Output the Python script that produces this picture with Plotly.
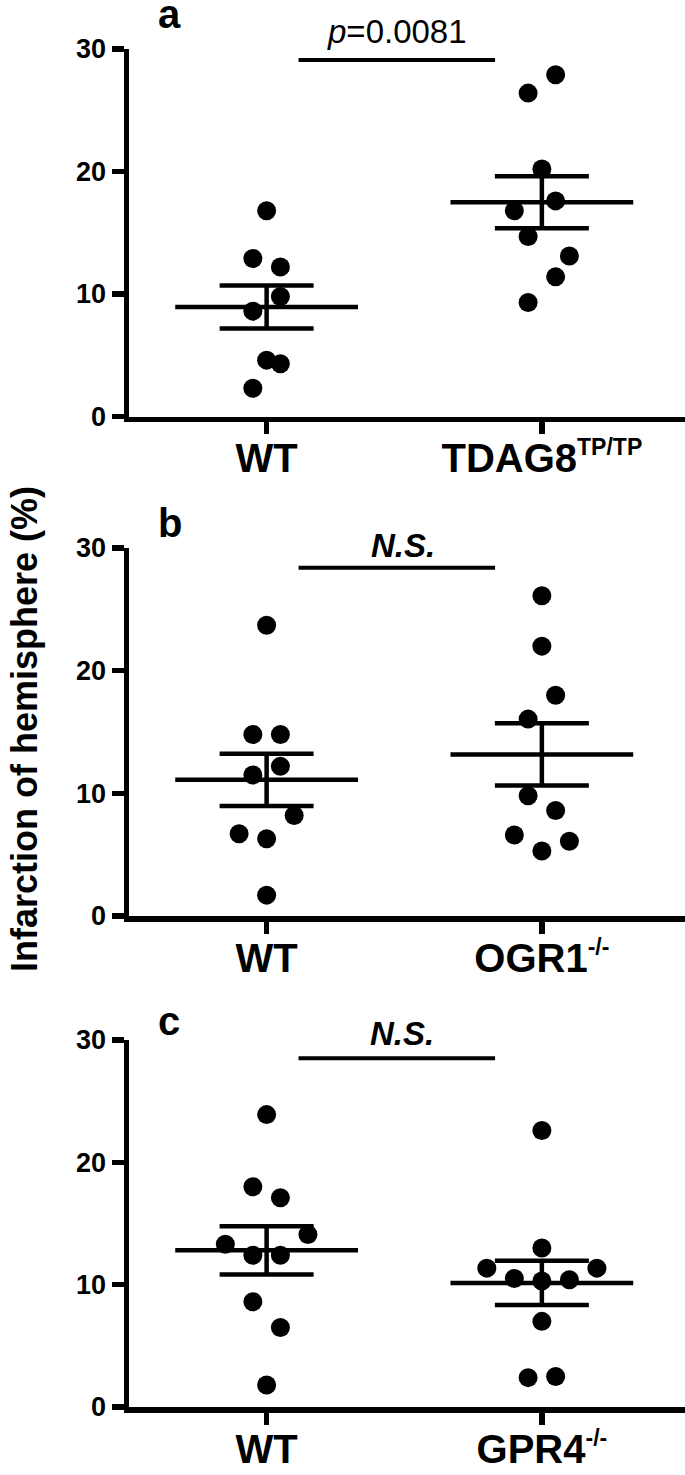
import numpy as np
import plotly.graph_objects as go

# ---------------- data ----------------
panel_letters = ["a", "b", "c"]
wt_label = "WT"
ko_labels = [
    'TDAG8<sup><span style="font-size:23px">TP/TP</span></sup>',
    'OGR1<sup><span style="font-size:23px">-/-</span></sup>',
    'GPR4<sup><span style="font-size:23px">-/-</span></sup>',
]
y_ticks = [0, 10, 20, 30]

# panel a
a_wt = [16.8, 12.9, 12.2, 9.8, 8.6, 4.6, 4.3, 2.3]
a_wt_slot = [0, -1, 1, 1, -1, 0, 1, -1]
a_ko = [27.9, 26.4, 20.2, 17.6, 16.8, 14.7, 13.1, 11.4, 9.3]
a_ko_slot = [1, -1, 0, 1, -2, -1, 2, 1, -1]
# panel b
b_wt = [23.7, 14.8, 14.8, 12.2, 11.5, 8.2, 6.7, 6.3, 1.7]
b_wt_slot = [0, -1, 1, 1, -1, 2, -2, 0, 0]
b_ko = [26.1, 22.0, 18.0, 16.05, 9.8, 8.6, 6.6, 6.1, 5.3]
b_ko_slot = [0, 0, 1, -1, -1, 1, -2, 2, 0]
# panel c
c_wt = [23.9, 18.0, 17.1, 14.1, 13.3, 12.4, 12.4, 8.6, 6.5, 1.8]
c_wt_slot = [0, -1, 1, 3, -3, -1, 1, -1, 1, 0]
c_ko = [22.6, 13.0, 11.35, 11.35, 10.5, 10.3, 10.4, 7.0, 2.4, 2.5]
c_ko_slot = [0, 0, -4, 4, -2, 0, 2, 0, -1, 1]

sig_text = ["<i>p</i>=0.0081", "<b><i>N.S.</i></b>", "<b><i>N.S.</i></b>"]
sig_level = [29.1, 28.4, 28.5]
sig_text_level = [31.45, 30.2, 30.5]
sig_text_x = [0.473, 0.495, 0.49]
sig_text_size = [33, 33, 33]

panels = [
    (a_wt, a_wt_slot, a_ko, a_ko_slot),
    (b_wt, b_wt_slot, b_ko, b_ko_slot),
    (c_wt, c_wt_slot, c_ko, c_ko_slot),
]

# ---------------- layout geometry ----------------
W, H = 685, 1475
FONT = "Liberation Sans, Arial, sans-serif"
panel_px = [(49, 416.5), (548, 916), (1040, 1407)]  # (top, bottom) in px
letter_px = [14, 523, 1021]
x_left_px = 129
slot_w = 0.05
mean_half = 0.332
cap_px = 47
LW = 5.5
YMAX = 30

fig = go.Figure()
layout = dict(
    width=W, height=H, margin=dict(l=0, r=0, t=0, b=0, autoexpand=False),
    paper_bgcolor="white", plot_bgcolor="white", showlegend=False,
    font=dict(family=FONT, color="black"),
)
annotations = []
shapes = []

for i, (wt, wt_s, ko, ko_s) in enumerate(panels):
    top, bot = panel_px[i]
    xa = "x" if i == 0 else f"x{i+1}"
    ya = "y" if i == 0 else f"y{i+1}"
    xkey = "xaxis" if i == 0 else f"xaxis{i+1}"
    ykey = "yaxis" if i == 0 else f"yaxis{i+1}"
    layout[xkey] = dict(
        domain=[x_left_px / W, 1], range=[-0.5, 1.52], anchor=ya,
        tickmode="array", tickvals=[0, 1], ticktext=[wt_label, ko_labels[i]],
        showline=True, linewidth=LW, linecolor="black", ticks="outside",
        ticklen=12, tickwidth=LW, tickcolor="black", showgrid=False, zeroline=False,
        tickfont=dict(family=FONT, size=40, color="black", weight="bold"),
        ticklabelstandoff=-10, automargin=False,
        fixedrange=True,
    )
    layout[ykey] = dict(
        domain=[1 - bot / H, 1 - top / H], range=[0, YMAX], anchor=xa,
        tickmode="array", tickvals=y_ticks,
        showline=True, linewidth=LW, linecolor="black", ticks="outside",
        ticklen=12, tickwidth=LW, tickcolor="black", showgrid=False, zeroline=False,
        tickfont=dict(family=FONT, size=27, color="black", weight="bold"),
        automargin=False,
        fixedrange=True,
    )
    for gi, (vals, slots) in enumerate([(wt, wt_s), (ko, ko_s)]):
        v = np.array(vals, dtype=float)
        xs = gi + np.array(slots) * slot_w
        fig.add_trace(go.Scatter(
            x=xs, y=v, mode="markers", xaxis=xa, yaxis=ya,
            marker=dict(size=19, color="black", line=dict(width=0)),
            cliponaxis=False, hoverinfo="skip"))
        m = v.mean()
        sem = v.std(ddof=1) / np.sqrt(len(v))
        fig.add_trace(go.Scatter(
            x=[gi - mean_half, gi + mean_half], y=[m, m], mode="lines",
            xaxis=xa, yaxis=ya, line=dict(color="black", width=4.5),
            hoverinfo="skip"))
        fig.add_trace(go.Scatter(
            x=[gi], y=[m], mode="markers", xaxis=xa, yaxis=ya,
            marker=dict(size=1, color="rgba(0,0,0,0)"),
            error_y=dict(type="data", array=[sem], visible=True, color="black",
                         thickness=4.5, width=cap_px),
            hoverinfo="skip"))
    # significance bar
    shapes.append(dict(type="line", xref=xa, yref=ya, x0=0.116, x1=0.83,
                       y0=sig_level[i], y1=sig_level[i],
                       line=dict(color="black", width=4)))
    # significance label (domain ref so it may sit above the axis range)
    annotations.append(dict(
        text=sig_text[i], xref=xa, yref=f"{ya} domain",
        x=sig_text_x[i], y=sig_text_level[i] / YMAX,
        xanchor="center", yanchor="middle", showarrow=False,
        font=dict(family=FONT, size=sig_text_size[i], color="black")))
    # panel letter
    annotations.append(dict(
        text=f"<b>{panel_letters[i]}</b>", xref="paper", yref="paper",
        x=156 / W, y=1 - letter_px[i] / H, xanchor="left", yanchor="middle",
        showarrow=False, font=dict(family=FONT, size=40, color="black")))

# shared y-axis title
annotations.append(dict(
    text="<b>Infarction of hemisphere (%)</b>", xref="paper", yref="paper",
    x=24 / W, y=1 - 729 / H, xanchor="center", yanchor="middle",
    textangle=-90, showarrow=False, font=dict(family=FONT, size=36, color="black")))

layout["annotations"] = annotations
layout["shapes"] = shapes
fig.update_layout(**layout)
fig.write_html("out.html", config={"displayModeBar": False, "staticPlot": True},
               post_script="document.body.style.margin='0px';")
